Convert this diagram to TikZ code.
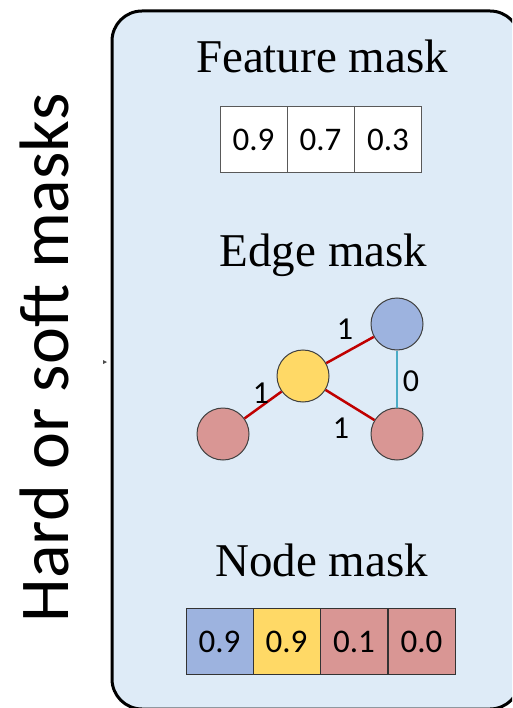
\documentclass[tikz,border=0pt]{standalone}
\usepackage{fontspec}
\setmainfont{Liberation Serif}
\newfontfamily\calfont{Carlito}
\definecolor{panelbg}{HTML}{DEEBF7}
\definecolor{nblue}{HTML}{9DB3DF}
\definecolor{nyellow}{HTML}{FFD966}
\definecolor{npink}{HTML}{D99694}
\definecolor{ered}{HTML}{C00000}
\definecolor{eteal}{HTML}{4BACC6}
\definecolor{cellline}{HTML}{595959}
\tikzset{
  title/.style={anchor=base, inner sep=0pt, font=\fontsize{47}{50}\selectfont},
  cell/.style={draw=cellline, line width=1pt, minimum width=67pt, minimum height=66pt, inner sep=0pt, font=\calfont\fontsize{33}{35}\selectfont},
  gnode/.style={circle, draw=black!75, line width=1pt, minimum size=52pt, inner sep=0pt},
  redge/.style={draw=ered, line width=2.5pt},
  tedge/.style={draw=eteal, line width=2.5pt},
  elabel/.style={inner sep=0pt, font=\calfont\fontsize{32}{34}\selectfont}
}
\begin{document}
\begin{tikzpicture}[x=1pt,y=-1pt]
\clip (0,0) rectangle (512,708);
\fill[white] (0,0) rectangle (512,708);
% panel
\draw[line width=3pt, fill=panelbg, rounded corners=30pt] (112,11) rectangle (520,709);
% side label
\node[rotate=90, anchor=base, inner sep=0pt, font=\calfont\fontsize{70}{72}\selectfont] (side) at (68,358) {Hard or soft masks};
% tiny arrow artifact
\fill[black!70] (103,360) -- (107,362) -- (103,364) -- cycle;
% titles
\node[title] (ft) at (322,73) {Feature mask};
\node[title] (et) at (323.5,266.5) {Edge mask};
\node[title] (nt) at (321.5,576) {Node mask};
% feature mask
\node[cell, fill=white] (f1) at (253.5,140) {0.9};
\node[cell, fill=white] (f2) at (320.5,140) {0.7};
\node[cell, fill=white] (f3) at (388,140) {0.3};
% graph
\node[gnode, fill=nyellow] (y) at (303,376) {};
\node[gnode, fill=nblue] (b) at (397,324) {};
\node[gnode, fill=npink] (pr) at (397,434) {};
\node[gnode, fill=npink] (pl) at (223,434) {};
\draw[redge] (y) -- (b);
\draw[redge] (y) -- (pl);
\draw[redge] (y) -- (pr);
\draw[tedge] (b) -- (pr);
\node[elabel] (l1) at (345,329) {1};
\node[elabel] (l2) at (261,393) {1};
\node[elabel] (l3) at (341,428) {1};
\node[elabel] (l4) at (411,381) {0};
% node mask
\node[cell, fill=nblue, draw=black!80] (n1) at (219.5,641.5) {0.9};
\node[cell, fill=nyellow, draw=black!80] (n2) at (286.5,641.5) {0.9};
\node[cell, fill=npink, draw=black!80] (n3) at (354,641.5) {0.1};
\node[cell, fill=npink, draw=black!80] (n4) at (421.5,641.5) {0.0};
\end{tikzpicture}
\end{document}
